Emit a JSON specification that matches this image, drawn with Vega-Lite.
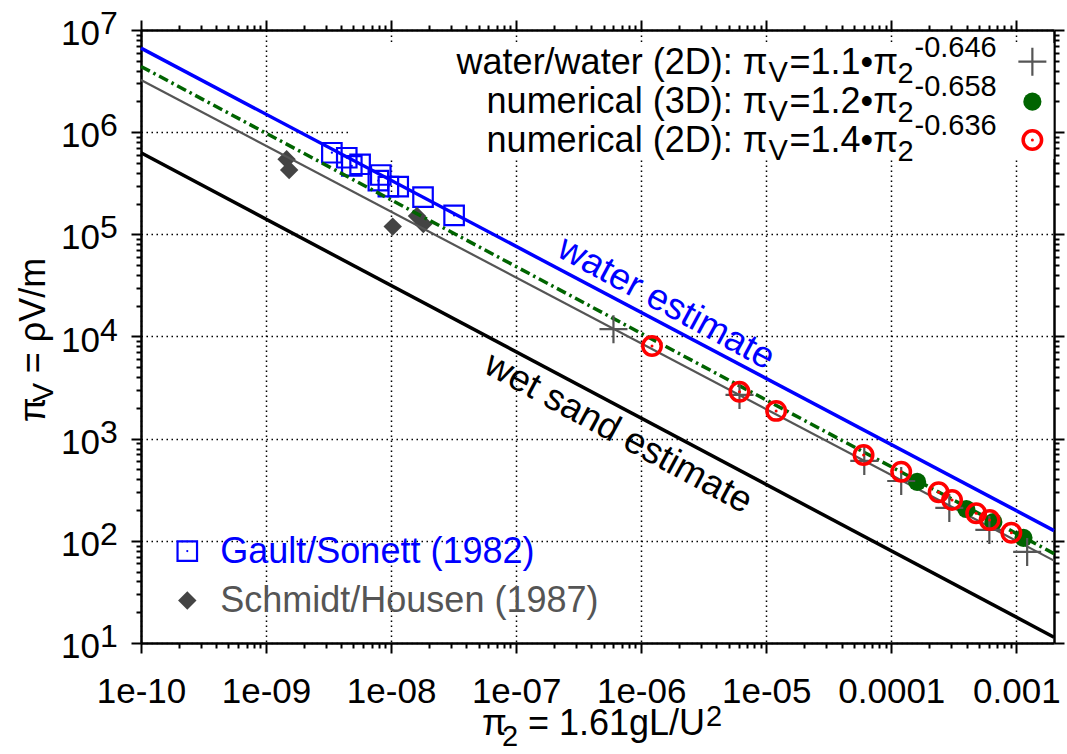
{
  "$schema": "https://vega.github.io/schema/vega-lite/v6.json",
  "width": 913,
  "height": 613,
  "autosize": "none",
  "padding": {"left": 141, "top": 30, "right": 13, "bottom": 111},
  "background": "white",
  "config": {"view": {"stroke": null}, "text": {"font": "Liberation Sans"}, "axis": {"labelFont": "Liberation Sans"}},
  "datasets": {
    "fits": [
      {"series": "water", "pi2": 1e-10, "piV": 6640000}, {"series": "water", "pi2": 0.002, "piV": 126},
      {"series": "sand", "pi2": 1e-10, "piV": 628000}, {"series": "sand", "pi2": 0.002, "piV": 11.4},
      {"series": "ww2d", "pi2": 1e-10, "piV": 3240000}, {"series": "ww2d", "pi2": 0.002, "piV": 64},
      {"series": "num3d", "pi2": 1e-10, "piV": 4400000}, {"series": "num3d", "pi2": 0.002, "piV": 75}
    ],
    "gault": [
      {"pi2": 3.36e-9, "piV": 629000}, {"pi2": 4.42e-9, "piV": 562000}, {"pi2": 4.85e-9, "piV": 467000},
      {"pi2": 5.65e-9, "piV": 485000}, {"pi2": 8.27e-9, "piV": 381000}, {"pi2": 7.91e-9, "piV": 335000},
      {"pi2": 9.51e-9, "piV": 293000}, {"pi2": 1.14e-8, "piV": 293000}, {"pi2": 1.8e-8, "piV": 231000},
      {"pi2": 3.19e-8, "piV": 153000}
    ],
    "schmidt": [
      {"pi2": 1.46e-9, "piV": 542000}, {"pi2": 1.53e-9, "piV": 427000}, {"pi2": 1.03e-8, "piV": 119000},
      {"pi2": 1.61e-8, "piV": 151000}, {"pi2": 1.81e-8, "piV": 126000}
    ],
    "ww2d": [
      {"pi2": 6.0e-7, "piV": 11800}, {"pi2": 6.11e-6, "piV": 2680}, {"pi2": 6.08e-5, "piV": 606},
      {"pi2": 0.00012, "piV": 385}, {"pi2": 0.000291, "piV": 210}, {"pi2": 0.000608, "piV": 128},
      {"pi2": 0.00122, "piV": 77.8}
    ],
    "num3d": [
      {"pi2": 0.000161, "piV": 377}, {"pi2": 0.000398, "piV": 205}, {"pi2": 0.000655, "piV": 153},
      {"pi2": 0.00114, "piV": 107}
    ],
    "num2d": [
      {"pi2": 1.22e-6, "piV": 8070}, {"pi2": 6.11e-6, "piV": 2880}, {"pi2": 1.2e-5, "piV": 1870},
      {"pi2": 6.0e-5, "piV": 692}, {"pi2": 0.00012, "piV": 475}, {"pi2": 0.000239, "piV": 299},
      {"pi2": 0.000306, "piV": 251}, {"pi2": 0.000477, "piV": 186}, {"pi2": 0.000611, "piV": 160},
      {"pi2": 0.000912, "piV": 120}
    ],
    "keybox": [{"pi2": 4.7e-9, "pi2b": 0.00198, "piV": 7470000, "piVb": 546000}],
    "key": [
      {"pi2": 1.023e-5, "piV": 3710000, "label": "water/water (2D): π", "coef": "=1.1•π", "expo": "-0.646"},
      {"pi2": 1.023e-5, "piV": 1550000, "label": "numerical (3D): π", "coef": "=1.2•π", "expo": "-0.658"},
      {"pi2": 1.023e-5, "piV": 644000, "label": "numerical (2D): π", "coef": "=1.4•π", "expo": "-0.636"}
    ],
    "keysym": [
      {"pi2": 0.001343, "piV": 4900000, "sym": "ww2d"},
      {"pi2": 0.001343, "piV": 1990000, "sym": "num3d"},
      {"pi2": 0.001343, "piV": 838000, "sym": "num2d"}
    ],
    "key2": [
      {"pi2": 2.345e-10, "piV": 79.4, "label": "Gault/Sonett (1982)"},
      {"pi2": 2.345e-10, "piV": 26.1, "label": "Schmidt/Housen (1987)"}
    ],
    "estimates": [
      {"pi2": 1.585e-6, "piV": 21200, "label": "water estimate", "kind": "water"},
      {"pi2": 6.55e-7, "piV": 1130, "label": "wet sand estimate", "kind": "sand"}
    ],
    "ylab": [
      {"pi2": 1e-10, "piV": 10, "exp": "1"}, {"pi2": 1e-10, "piV": 100, "exp": "2"},
      {"pi2": 1e-10, "piV": 1000, "exp": "3"}, {"pi2": 1e-10, "piV": 10000, "exp": "4"},
      {"pi2": 1e-10, "piV": 100000, "exp": "5"}, {"pi2": 1e-10, "piV": 1000000, "exp": "6"},
      {"pi2": 1e-10, "piV": 10000000, "exp": "7"}
    ],
    "xtitle": [{"pi2": 5.32e-8, "piV": 10}],
    "ytitle": [{"pi2": 1e-10, "piV": 1449}]
  },
  "resolve": {"axis": {"x": "independent", "y": "independent"}},
  "layer": [
    {
      "data": {"name": "keybox"},
      "mark": {"type": "rect", "fill": "white", "stroke": null},
      "encoding": {
        "x": {"field": "pi2", "type": "quantitative", "scale": {"type": "log", "domain": [1e-10, 0.002], "nice": false},
          "axis": {"orient": "bottom", "values": [1e-10, 1e-9, 1e-8, 1e-7, 1e-6, 1e-5, 0.0001, 0.001], "title": null,
            "tickSize": 10, "tickWidth": 2, "tickColor": "black", "domain": true, "domainColor": "black", "domainWidth": 2.5,
            "grid": true, "gridColor": "black", "gridDash": [1.5, 3.5], "gridWidth": 1.5, "gridOpacity": 1,
            "labelFontSize": 35, "labelColor": "black", "labelPadding": 21, "labelFlush": false, "labelOverlap": false, "labelBound": false,
            "labelExpr": "datum.value >= 0.00005 ? toString(datum.value) : '1e-' + (round(-log(datum.value)/LN10) < 10 ? '0' : '') + round(-log(datum.value)/LN10)"}},
        "x2": {"field": "pi2b"},
        "y": {"field": "piV", "type": "quantitative", "scale": {"type": "log", "domain": [10, 10000000], "nice": false},
          "axis": {"orient": "left", "values": [10, 100, 1000, 10000, 100000, 1000000, 10000000], "title": null,
            "tickSize": 10, "tickWidth": 2, "tickColor": "black", "domain": true, "domainColor": "black", "domainWidth": 2.5,
            "grid": true, "gridColor": "black", "gridDash": [1.5, 3.5], "gridWidth": 1.5, "gridOpacity": 1, "labels": false}},
        "y2": {"field": "piVb"}
      }
    },
    {
      "data": {"name": "gault"},
      "mark": {"type": "point", "shape": "square", "filled": false, "stroke": "#0000ff", "strokeWidth": 2.2, "size": 380, "opacity": 1},
      "encoding": {
        "x": {"field": "pi2", "type": "quantitative", "scale": {"type": "log", "domain": [1e-10, 0.002], "nice": false},
          "axis": {"orient": "bottom", "title": null, "labels": false, "domain": false, "grid": false, "tickSize": 5, "tickWidth": 2, "tickColor": "black",
            "values": [2e-10, 3e-10, 4e-10, 5e-10, 6e-10, 7e-10, 8e-10, 9e-10, 2e-9, 3e-9, 4e-9, 5e-9, 6e-9, 7e-9, 8e-9, 9e-9, 2e-8, 3e-8, 4e-8, 5e-8, 6e-8, 7e-8, 8e-8, 9e-8, 2e-7, 3e-7, 4e-7, 5e-7, 6e-7, 7e-7, 8e-7, 9e-7, 2e-6, 3e-6, 4e-6, 5e-6, 6e-6, 7e-6, 8e-6, 9e-6, 2e-5, 3e-5, 4e-5, 5e-5, 6e-5, 7e-5, 8e-5, 9e-5, 0.0002, 0.0003, 0.0004, 0.0005, 0.0006, 0.0007, 0.0008, 0.0009]}},
        "y": {"field": "piV", "type": "quantitative", "scale": {"type": "log", "domain": [10, 10000000], "nice": false},
          "axis": {"orient": "left", "title": null, "labels": false, "domain": false, "grid": false, "tickSize": 5, "tickWidth": 2, "tickColor": "black",
            "values": [20, 30, 40, 50, 60, 70, 80, 90, 200, 300, 400, 500, 600, 700, 800, 900, 2000, 3000, 4000, 5000, 6000, 7000, 8000, 9000, 20000, 30000, 40000, 50000, 60000, 70000, 80000, 90000, 200000, 300000, 400000, 500000, 600000, 700000, 800000, 900000, 2000000, 3000000, 4000000, 5000000, 6000000, 7000000, 8000000, 9000000]}}
      }
    },
    {
      "data": {"name": "gault"},
      "mark": {"type": "point", "shape": "circle", "filled": true, "color": "#0000ff", "size": 5, "opacity": 1},
      "encoding": {
        "x": {"field": "pi2", "type": "quantitative", "scale": {"type": "log", "domain": [1e-10, 0.002], "nice": false},
          "axis": {"orient": "top", "values": [1e-10, 1e-9, 1e-8, 1e-7, 1e-6, 1e-5, 0.0001, 0.001], "title": null, "labels": false, "grid": false,
            "tickSize": 10, "tickWidth": 2, "tickColor": "black", "domain": true, "domainColor": "black", "domainWidth": 2.5}},
        "y": {"field": "piV", "type": "quantitative", "scale": {"type": "log", "domain": [10, 10000000], "nice": false},
          "axis": {"orient": "right", "values": [10, 100, 1000, 10000, 100000, 1000000, 10000000], "title": null, "labels": false, "grid": false,
            "tickSize": 10, "tickWidth": 2, "tickColor": "black", "domain": true, "domainColor": "black", "domainWidth": 2.5}}
      }
    },
    {
      "data": {"name": "schmidt"},
      "mark": {"type": "point", "shape": "diamond", "filled": true, "color": "#444444", "size": 340, "opacity": 1},
      "encoding": {
        "x": {"field": "pi2", "type": "quantitative", "scale": {"type": "log", "domain": [1e-10, 0.002], "nice": false},
          "axis": {"orient": "top", "title": null, "labels": false, "domain": false, "grid": false, "tickSize": 5, "tickWidth": 2, "tickColor": "black",
            "values": [2e-10, 3e-10, 4e-10, 5e-10, 6e-10, 7e-10, 8e-10, 9e-10, 2e-9, 3e-9, 4e-9, 5e-9, 6e-9, 7e-9, 8e-9, 9e-9, 2e-8, 3e-8, 4e-8, 5e-8, 6e-8, 7e-8, 8e-8, 9e-8, 2e-7, 3e-7, 4e-7, 5e-7, 6e-7, 7e-7, 8e-7, 9e-7, 2e-6, 3e-6, 4e-6, 5e-6, 6e-6, 7e-6, 8e-6, 9e-6, 2e-5, 3e-5, 4e-5, 5e-5, 6e-5, 7e-5, 8e-5, 9e-5, 0.0002, 0.0003, 0.0004, 0.0005, 0.0006, 0.0007, 0.0008, 0.0009]}},
        "y": {"field": "piV", "type": "quantitative", "scale": {"type": "log", "domain": [10, 10000000], "nice": false},
          "axis": {"orient": "right", "title": null, "labels": false, "domain": false, "grid": false, "tickSize": 5, "tickWidth": 2, "tickColor": "black",
            "values": [20, 30, 40, 50, 60, 70, 80, 90, 200, 300, 400, 500, 600, 700, 800, 900, 2000, 3000, 4000, 5000, 6000, 7000, 8000, 9000, 20000, 30000, 40000, 50000, 60000, 70000, 80000, 90000, 200000, 300000, 400000, 500000, 600000, 700000, 800000, 900000, 2000000, 3000000, 4000000, 5000000, 6000000, 7000000, 8000000, 9000000]}}
      }
    },
    {
      "data": {"name": "fits"},
      "transform": [{"filter": "datum.series === 'water'"}],
      "mark": {"type": "line", "color": "#0000ff", "strokeWidth": 3.5},
      "encoding": {
        "x": {"field": "pi2", "type": "quantitative", "scale": {"type": "log", "domain": [1e-10, 0.002], "nice": false}, "axis": null},
        "y": {"field": "piV", "type": "quantitative", "scale": {"type": "log", "domain": [10, 10000000], "nice": false}, "axis": null}
      }
    },
    {
      "data": {"name": "fits"},
      "transform": [{"filter": "datum.series === 'sand'"}],
      "mark": {"type": "line", "color": "#000000", "strokeWidth": 3.5},
      "encoding": {
        "x": {"field": "pi2", "type": "quantitative", "scale": {"type": "log", "domain": [1e-10, 0.002], "nice": false}, "axis": null},
        "y": {"field": "piV", "type": "quantitative", "scale": {"type": "log", "domain": [10, 10000000], "nice": false}, "axis": null}
      }
    },
    {
      "data": {"name": "fits"},
      "transform": [{"filter": "datum.series === 'ww2d'"}],
      "mark": {"type": "line", "color": "#555555", "strokeWidth": 2.2},
      "encoding": {
        "x": {"field": "pi2", "type": "quantitative", "scale": {"type": "log", "domain": [1e-10, 0.002], "nice": false}, "axis": null},
        "y": {"field": "piV", "type": "quantitative", "scale": {"type": "log", "domain": [10, 10000000], "nice": false}, "axis": null}
      }
    },
    {
      "data": {"name": "fits"},
      "transform": [{"filter": "datum.series === 'num3d'"}],
      "mark": {"type": "line", "color": "#006400", "strokeWidth": 3.5, "strokeDash": [10, 4, 2.5, 4]},
      "encoding": {
        "x": {"field": "pi2", "type": "quantitative", "scale": {"type": "log", "domain": [1e-10, 0.002], "nice": false}, "axis": null},
        "y": {"field": "piV", "type": "quantitative", "scale": {"type": "log", "domain": [10, 10000000], "nice": false}, "axis": null}
      }
    },
    {
      "data": {"name": "num3d"},
      "mark": {"type": "point", "shape": "circle", "filled": true, "color": "#006400", "size": 330, "opacity": 1},
      "encoding": {
        "x": {"field": "pi2", "type": "quantitative", "scale": {"type": "log", "domain": [1e-10, 0.002], "nice": false}, "axis": null},
        "y": {"field": "piV", "type": "quantitative", "scale": {"type": "log", "domain": [10, 10000000], "nice": false}, "axis": null}
      }
    },
    {
      "data": {"name": "ww2d"},
      "mark": {"type": "point", "shape": "M-1,0H1M0,-1V1", "filled": false, "stroke": "#555555", "strokeWidth": 2.2, "size": 784, "opacity": 1},
      "encoding": {
        "x": {"field": "pi2", "type": "quantitative", "scale": {"type": "log", "domain": [1e-10, 0.002], "nice": false}, "axis": null},
        "y": {"field": "piV", "type": "quantitative", "scale": {"type": "log", "domain": [10, 10000000], "nice": false}, "axis": null}
      }
    },
    {
      "data": {"name": "num2d"},
      "mark": {"type": "point", "shape": "circle", "filled": false, "stroke": "#ff0000", "strokeWidth": 3.5, "size": 340, "opacity": 1},
      "encoding": {
        "x": {"field": "pi2", "type": "quantitative", "scale": {"type": "log", "domain": [1e-10, 0.002], "nice": false}, "axis": null},
        "y": {"field": "piV", "type": "quantitative", "scale": {"type": "log", "domain": [10, 10000000], "nice": false}, "axis": null}
      }
    },
    {
      "data": {"name": "num2d"},
      "mark": {"type": "point", "shape": "circle", "filled": true, "color": "#ff0000", "size": 9, "opacity": 1},
      "encoding": {
        "x": {"field": "pi2", "type": "quantitative", "scale": {"type": "log", "domain": [1e-10, 0.002], "nice": false}, "axis": null},
        "y": {"field": "piV", "type": "quantitative", "scale": {"type": "log", "domain": [10, 10000000], "nice": false}, "axis": null}
      }
    },
    {
      "data": {"name": "key"},
      "mark": {"type": "text", "align": "right", "baseline": "alphabetic", "fontSize": 36, "color": "black"},
      "encoding": {
        "x": {"field": "pi2", "type": "quantitative", "scale": {"type": "log", "domain": [1e-10, 0.002], "nice": false}, "axis": null},
        "y": {"field": "piV", "type": "quantitative", "scale": {"type": "log", "domain": [10, 10000000], "nice": false}, "axis": null},
        "text": {"field": "label"}
      }
    },
    {
      "data": {"name": "key"},
      "mark": {"type": "text", "align": "left", "baseline": "alphabetic", "fontSize": 29, "color": "black", "text": "V", "dx": 1, "dy": 8},
      "encoding": {
        "x": {"field": "pi2", "type": "quantitative", "scale": {"type": "log", "domain": [1e-10, 0.002], "nice": false}, "axis": null},
        "y": {"field": "piV", "type": "quantitative", "scale": {"type": "log", "domain": [10, 10000000], "nice": false}, "axis": null}
      }
    },
    {
      "data": {"name": "key"},
      "mark": {"type": "text", "align": "left", "baseline": "alphabetic", "fontSize": 36, "color": "black", "dx": 22},
      "encoding": {
        "x": {"field": "pi2", "type": "quantitative", "scale": {"type": "log", "domain": [1e-10, 0.002], "nice": false}, "axis": null},
        "y": {"field": "piV", "type": "quantitative", "scale": {"type": "log", "domain": [10, 10000000], "nice": false}, "axis": null},
        "text": {"field": "coef"}
      }
    },
    {
      "data": {"name": "key"},
      "mark": {"type": "text", "align": "left", "baseline": "alphabetic", "fontSize": 29, "color": "black", "text": "2", "dx": 130, "dy": 9},
      "encoding": {
        "x": {"field": "pi2", "type": "quantitative", "scale": {"type": "log", "domain": [1e-10, 0.002], "nice": false}, "axis": null},
        "y": {"field": "piV", "type": "quantitative", "scale": {"type": "log", "domain": [10, 10000000], "nice": false}, "axis": null}
      }
    },
    {
      "data": {"name": "key"},
      "mark": {"type": "text", "align": "left", "baseline": "alphabetic", "fontSize": 29, "color": "black", "dx": 147, "dy": -17},
      "encoding": {
        "x": {"field": "pi2", "type": "quantitative", "scale": {"type": "log", "domain": [1e-10, 0.002], "nice": false}, "axis": null},
        "y": {"field": "piV", "type": "quantitative", "scale": {"type": "log", "domain": [10, 10000000], "nice": false}, "axis": null},
        "text": {"field": "expo"}
      }
    },
    {
      "data": {"name": "keysym"},
      "transform": [{"filter": "datum.sym === 'ww2d'"}],
      "mark": {"type": "point", "shape": "M-1,0H1M0,-1V1", "filled": false, "stroke": "#555555", "strokeWidth": 2.2, "size": 784, "opacity": 1},
      "encoding": {
        "x": {"field": "pi2", "type": "quantitative", "scale": {"type": "log", "domain": [1e-10, 0.002], "nice": false}, "axis": null},
        "y": {"field": "piV", "type": "quantitative", "scale": {"type": "log", "domain": [10, 10000000], "nice": false}, "axis": null}
      }
    },
    {
      "data": {"name": "keysym"},
      "transform": [{"filter": "datum.sym === 'num3d'"}],
      "mark": {"type": "point", "shape": "circle", "filled": true, "color": "#006400", "size": 330, "opacity": 1},
      "encoding": {
        "x": {"field": "pi2", "type": "quantitative", "scale": {"type": "log", "domain": [1e-10, 0.002], "nice": false}, "axis": null},
        "y": {"field": "piV", "type": "quantitative", "scale": {"type": "log", "domain": [10, 10000000], "nice": false}, "axis": null}
      }
    },
    {
      "data": {"name": "keysym"},
      "transform": [{"filter": "datum.sym === 'num2d'"}],
      "mark": {"type": "point", "shape": "circle", "filled": false, "stroke": "#ff0000", "strokeWidth": 3.5, "size": 340, "opacity": 1},
      "encoding": {
        "x": {"field": "pi2", "type": "quantitative", "scale": {"type": "log", "domain": [1e-10, 0.002], "nice": false}, "axis": null},
        "y": {"field": "piV", "type": "quantitative", "scale": {"type": "log", "domain": [10, 10000000], "nice": false}, "axis": null}
      }
    },
    {
      "data": {"name": "keysym"},
      "transform": [{"filter": "datum.sym === 'num2d'"}],
      "mark": {"type": "point", "shape": "circle", "filled": true, "color": "#ff0000", "size": 9, "opacity": 1},
      "encoding": {
        "x": {"field": "pi2", "type": "quantitative", "scale": {"type": "log", "domain": [1e-10, 0.002], "nice": false}, "axis": null},
        "y": {"field": "piV", "type": "quantitative", "scale": {"type": "log", "domain": [10, 10000000], "nice": false}, "axis": null}
      }
    },
    {
      "data": {"name": "key2"},
      "transform": [{"filter": "datum.label === 'Gault/Sonett (1982)'"}],
      "mark": {"type": "point", "shape": "square", "filled": false, "stroke": "#0000ff", "strokeWidth": 2.2, "size": 380, "opacity": 1},
      "encoding": {
        "x": {"field": "pi2", "type": "quantitative", "scale": {"type": "log", "domain": [1e-10, 0.002], "nice": false}, "axis": null},
        "y": {"field": "piV", "type": "quantitative", "scale": {"type": "log", "domain": [10, 10000000], "nice": false}, "axis": null}
      }
    },
    {
      "data": {"name": "key2"},
      "transform": [{"filter": "datum.label === 'Gault/Sonett (1982)'"}],
      "mark": {"type": "point", "shape": "circle", "filled": true, "color": "#0000ff", "size": 5, "opacity": 1},
      "encoding": {
        "x": {"field": "pi2", "type": "quantitative", "scale": {"type": "log", "domain": [1e-10, 0.002], "nice": false}, "axis": null},
        "y": {"field": "piV", "type": "quantitative", "scale": {"type": "log", "domain": [10, 10000000], "nice": false}, "axis": null}
      }
    },
    {
      "data": {"name": "key2"},
      "transform": [{"filter": "datum.label === 'Schmidt/Housen (1987)'"}],
      "mark": {"type": "point", "shape": "diamond", "filled": true, "color": "#444444", "size": 340, "opacity": 1},
      "encoding": {
        "x": {"field": "pi2", "type": "quantitative", "scale": {"type": "log", "domain": [1e-10, 0.002], "nice": false}, "axis": null},
        "y": {"field": "piV", "type": "quantitative", "scale": {"type": "log", "domain": [10, 10000000], "nice": false}, "axis": null}
      }
    },
    {
      "data": {"name": "key2"},
      "transform": [{"filter": "datum.label === 'Gault/Sonett (1982)'"}],
      "mark": {"type": "text", "align": "left", "baseline": "alphabetic", "fontSize": 36, "color": "#0000ff", "dx": 33, "dy": 12},
      "encoding": {
        "x": {"field": "pi2", "type": "quantitative", "scale": {"type": "log", "domain": [1e-10, 0.002], "nice": false}, "axis": null},
        "y": {"field": "piV", "type": "quantitative", "scale": {"type": "log", "domain": [10, 10000000], "nice": false}, "axis": null},
        "text": {"field": "label"}
      }
    },
    {
      "data": {"name": "key2"},
      "transform": [{"filter": "datum.label === 'Schmidt/Housen (1987)'"}],
      "mark": {"type": "text", "align": "left", "baseline": "alphabetic", "fontSize": 36, "color": "#555555", "dx": 33, "dy": 12},
      "encoding": {
        "x": {"field": "pi2", "type": "quantitative", "scale": {"type": "log", "domain": [1e-10, 0.002], "nice": false}, "axis": null},
        "y": {"field": "piV", "type": "quantitative", "scale": {"type": "log", "domain": [10, 10000000], "nice": false}, "axis": null},
        "text": {"field": "label"}
      }
    },
    {
      "data": {"name": "estimates"},
      "transform": [{"filter": "datum.kind === 'water'"}],
      "mark": {"type": "text", "align": "center", "baseline": "middle", "fontSize": 37, "color": "#0000ff", "angle": 28.5},
      "encoding": {
        "x": {"field": "pi2", "type": "quantitative", "scale": {"type": "log", "domain": [1e-10, 0.002], "nice": false}, "axis": null},
        "y": {"field": "piV", "type": "quantitative", "scale": {"type": "log", "domain": [10, 10000000], "nice": false}, "axis": null},
        "text": {"field": "label"}
      }
    },
    {
      "data": {"name": "estimates"},
      "transform": [{"filter": "datum.kind === 'sand'"}],
      "mark": {"type": "text", "align": "center", "baseline": "middle", "fontSize": 37, "color": "#000000", "angle": 28.5},
      "encoding": {
        "x": {"field": "pi2", "type": "quantitative", "scale": {"type": "log", "domain": [1e-10, 0.002], "nice": false}, "axis": null},
        "y": {"field": "piV", "type": "quantitative", "scale": {"type": "log", "domain": [10, 10000000], "nice": false}, "axis": null},
        "text": {"field": "label"}
      }
    },
    {
      "data": {"name": "ylab"},
      "mark": {"type": "text", "align": "right", "baseline": "alphabetic", "fontSize": 35, "color": "black", "text": "10", "dx": -41, "dy": 15},
      "encoding": {
        "x": {"field": "pi2", "type": "quantitative", "scale": {"type": "log", "domain": [1e-10, 0.002], "nice": false}, "axis": null},
        "y": {"field": "piV", "type": "quantitative", "scale": {"type": "log", "domain": [10, 10000000], "nice": false}, "axis": null}
      }
    },
    {
      "data": {"name": "ylab"},
      "mark": {"type": "text", "align": "left", "baseline": "alphabetic", "fontSize": 32, "color": "black", "dx": -41, "dy": 4},
      "encoding": {
        "x": {"field": "pi2", "type": "quantitative", "scale": {"type": "log", "domain": [1e-10, 0.002], "nice": false}, "axis": null},
        "y": {"field": "piV", "type": "quantitative", "scale": {"type": "log", "domain": [10, 10000000], "nice": false}, "axis": null},
        "text": {"field": "exp"}
      }
    },
    {
      "data": {"name": "xtitle"},
      "mark": {"type": "text", "align": "left", "baseline": "alphabetic", "fontSize": 36, "color": "black", "text": "π", "dx": 0, "dy": 92},
      "encoding": {
        "x": {"field": "pi2", "type": "quantitative", "scale": {"type": "log", "domain": [1e-10, 0.002], "nice": false}, "axis": null},
        "y": {"field": "piV", "type": "quantitative", "scale": {"type": "log", "domain": [10, 10000000], "nice": false}, "axis": null}
      }
    },
    {
      "data": {"name": "xtitle"},
      "mark": {"type": "text", "align": "left", "baseline": "alphabetic", "fontSize": 29, "color": "black", "text": "2", "dx": 20, "dy": 103},
      "encoding": {
        "x": {"field": "pi2", "type": "quantitative", "scale": {"type": "log", "domain": [1e-10, 0.002], "nice": false}, "axis": null},
        "y": {"field": "piV", "type": "quantitative", "scale": {"type": "log", "domain": [10, 10000000], "nice": false}, "axis": null}
      }
    },
    {
      "data": {"name": "xtitle"},
      "mark": {"type": "text", "align": "left", "baseline": "alphabetic", "fontSize": 36, "color": "black", "text": "= 1.61gL/U", "dx": 46, "dy": 92},
      "encoding": {
        "x": {"field": "pi2", "type": "quantitative", "scale": {"type": "log", "domain": [1e-10, 0.002], "nice": false}, "axis": null},
        "y": {"field": "piV", "type": "quantitative", "scale": {"type": "log", "domain": [10, 10000000], "nice": false}, "axis": null}
      }
    },
    {
      "data": {"name": "xtitle"},
      "mark": {"type": "text", "align": "left", "baseline": "alphabetic", "fontSize": 29, "color": "black", "text": "2", "dx": 224, "dy": 83},
      "encoding": {
        "x": {"field": "pi2", "type": "quantitative", "scale": {"type": "log", "domain": [1e-10, 0.002], "nice": false}, "axis": null},
        "y": {"field": "piV", "type": "quantitative", "scale": {"type": "log", "domain": [10, 10000000], "nice": false}, "axis": null}
      }
    },
    {
      "data": {"name": "ytitle"},
      "mark": {"type": "text", "align": "left", "baseline": "alphabetic", "fontSize": 36, "color": "black", "text": "π", "angle": -90, "dx": 0, "dy": -96},
      "encoding": {
        "x": {"field": "pi2", "type": "quantitative", "scale": {"type": "log", "domain": [1e-10, 0.002], "nice": false}, "axis": null},
        "y": {"field": "piV", "type": "quantitative", "scale": {"type": "log", "domain": [10, 10000000], "nice": false}, "axis": null}
      }
    },
    {
      "data": {"name": "ytitle"},
      "mark": {"type": "text", "align": "left", "baseline": "alphabetic", "fontSize": 29, "color": "black", "text": "V", "angle": -90, "dx": 20, "dy": -88},
      "encoding": {
        "x": {"field": "pi2", "type": "quantitative", "scale": {"type": "log", "domain": [1e-10, 0.002], "nice": false}, "axis": null},
        "y": {"field": "piV", "type": "quantitative", "scale": {"type": "log", "domain": [10, 10000000], "nice": false}, "axis": null}
      }
    },
    {
      "data": {"name": "ytitle"},
      "mark": {"type": "text", "align": "left", "baseline": "alphabetic", "fontSize": 36, "color": "black", "text": "= ρV/m", "angle": -90, "dx": 49, "dy": -96},
      "encoding": {
        "x": {"field": "pi2", "type": "quantitative", "scale": {"type": "log", "domain": [1e-10, 0.002], "nice": false}, "axis": null},
        "y": {"field": "piV", "type": "quantitative", "scale": {"type": "log", "domain": [10, 10000000], "nice": false}, "axis": null}
      }
    }
  ]
}
